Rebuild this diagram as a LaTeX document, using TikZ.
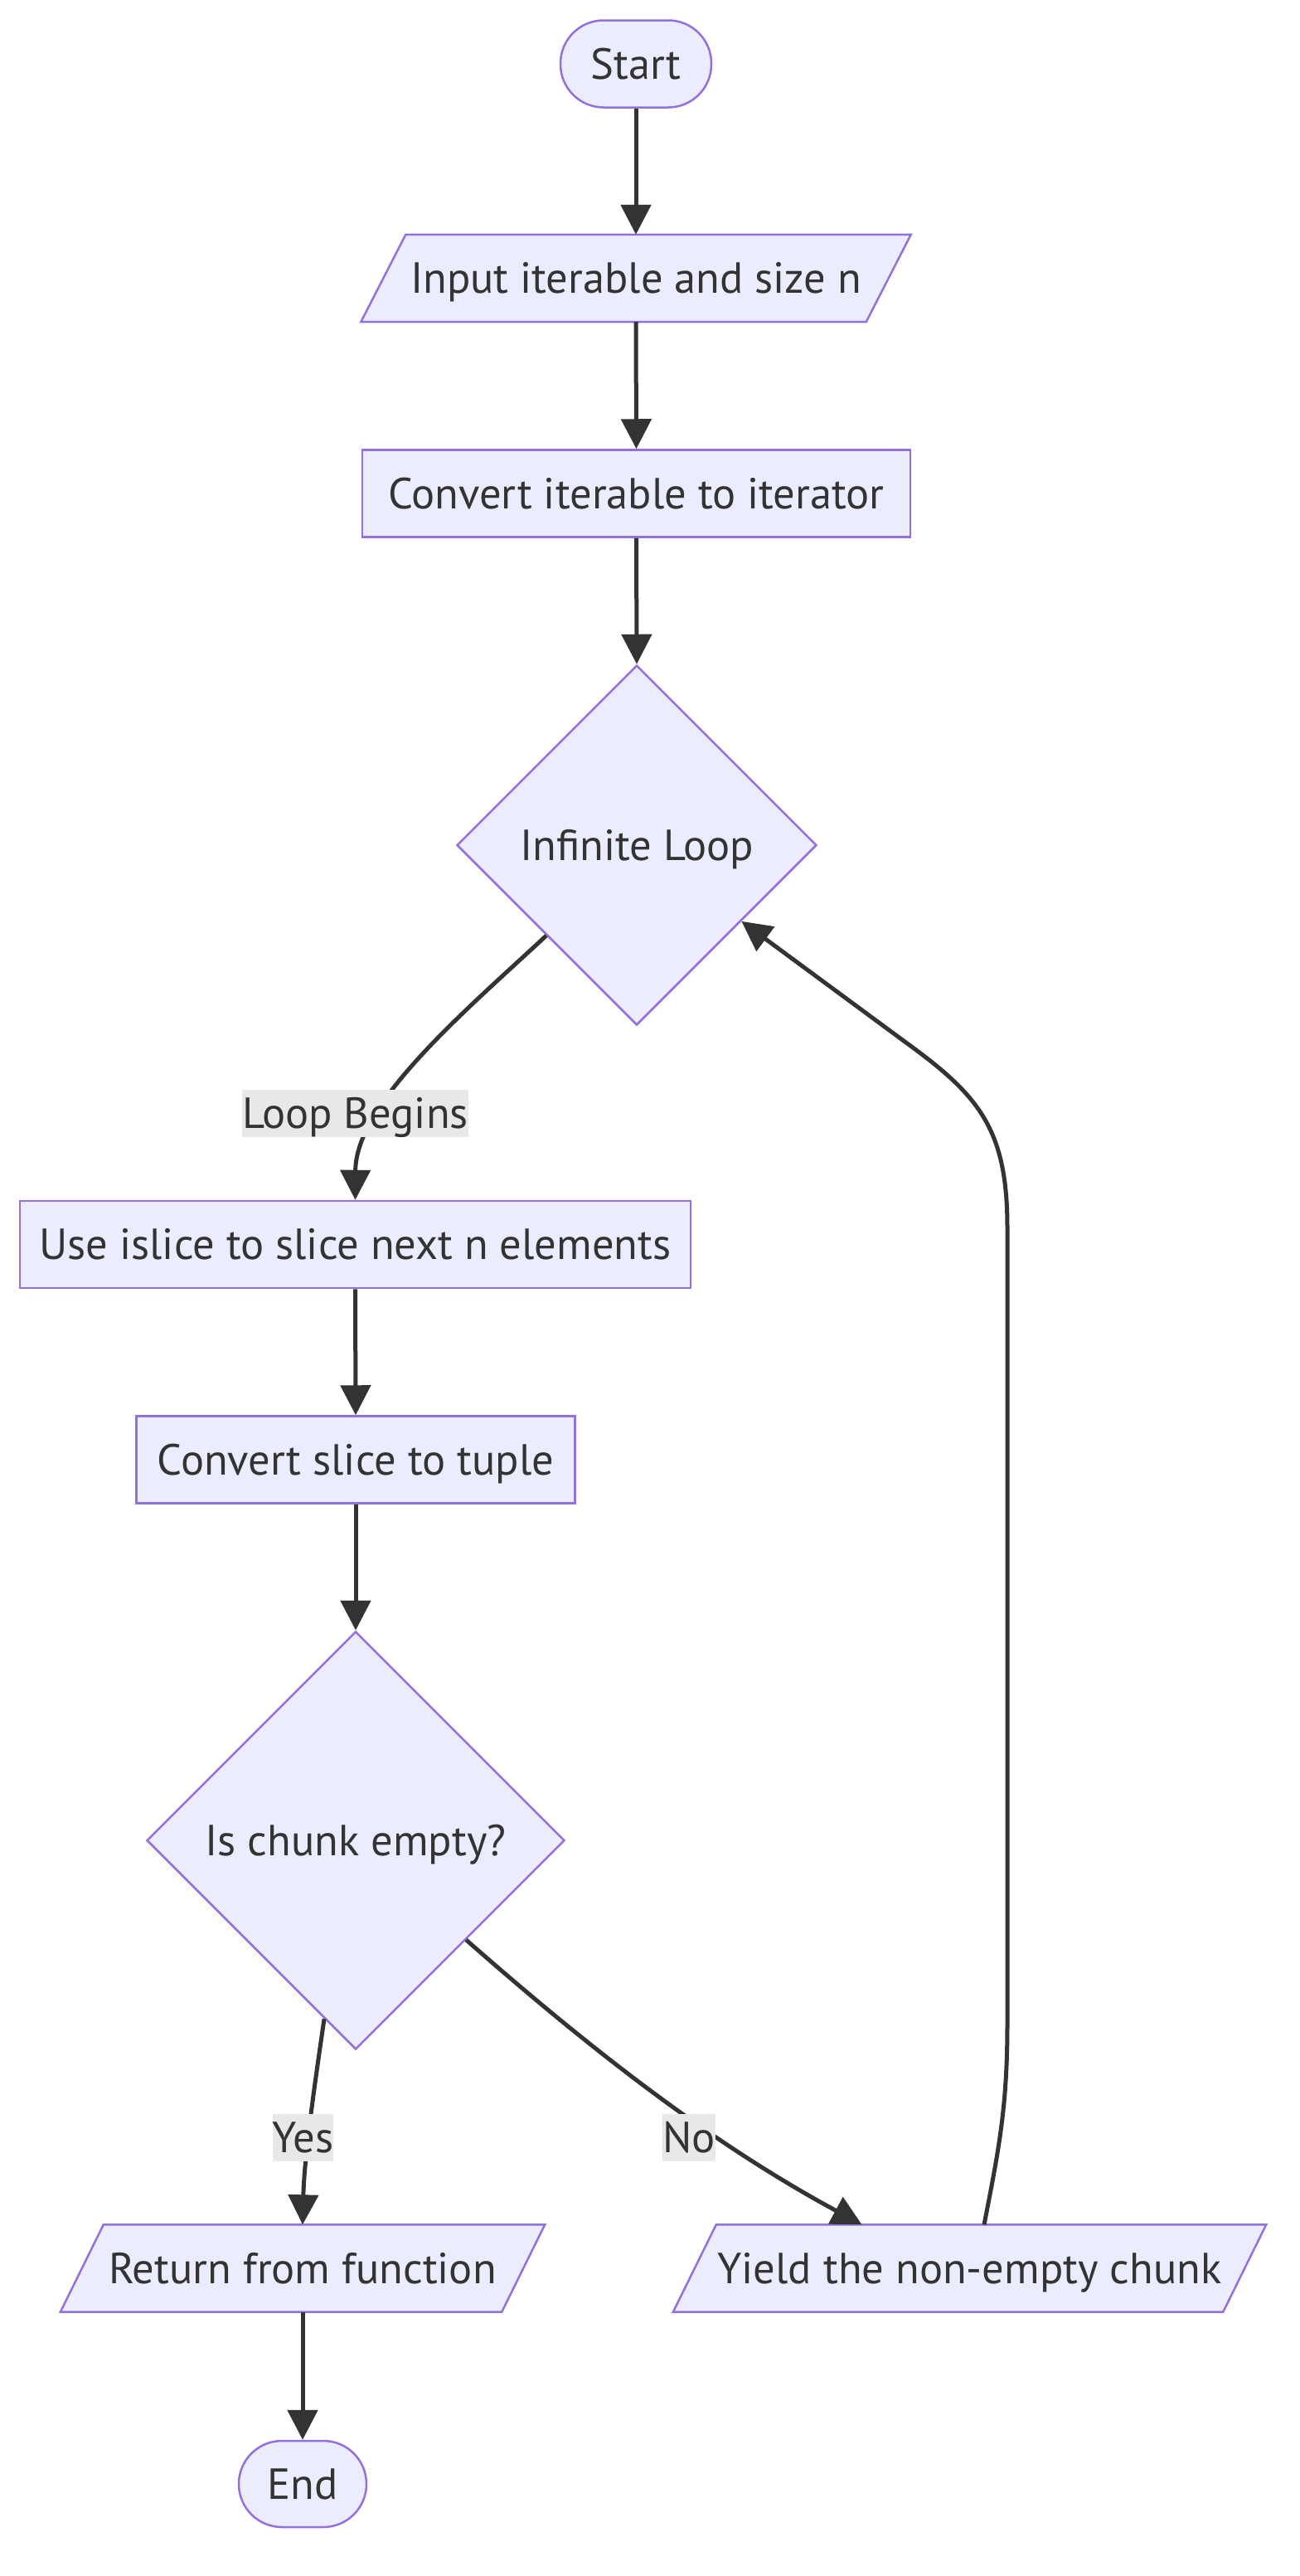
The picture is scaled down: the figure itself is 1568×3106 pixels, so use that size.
\documentclass[tikz,border=0pt]{standalone}
\usepackage{fontspec}
\setmainfont{PT Sans}
\usetikzlibrary{shapes.geometric,arrows.meta,backgrounds}
\definecolor{nfill}{HTML}{ECECFF}
\definecolor{nstroke}{HTML}{9370DB}
\definecolor{eline}{HTML}{333333}
\definecolor{lblbg}{HTML}{E8E8E8}
\begin{document}
\begin{tikzpicture}[x=1pt,y=-1pt,
  every node/.style={text=eline, font=\fontsize{52.5}{63}\selectfont, text height=36.5pt, text depth=0pt},
  box/.style={draw=nstroke, fill=nfill, line width=2.5pt, rectangle, inner sep=0pt, minimum height=105pt},
  term/.style={box, rounded corners=52pt},
  para/.style={rectangle, inner sep=0pt, minimum height=105pt},
  rhomb/.style={diamond, aspect=1, draw=nstroke, fill=nfill, line width=2.5pt, inner sep=0pt},
  conn/.style={draw=eline, line width=5pt, -{Triangle[length=36pt,width=36pt]}},
  lbl/.style={fill=lblbg, inner sep=0pt, minimum height=57pt}
]
\useasboundingbox (0,0) rectangle (1568,3106);
\node[term, minimum width=182pt] (start) at (767,77) {Start};
\node[para, minimum width=609pt] (input) at (767,335.5) {Input iterable and size n};
\node[box, minimum width=661pt] (conv) at (767.5,595) {Convert iterable to iterator};
\node[rhomb, minimum width=434pt, minimum height=434pt] (loop) at (768,1019) {Infinite Loop};
\node[box, minimum width=809pt] (islice) at (428.5,1500.5) {Use islice to slice next n elements};
\node[box, minimum width=529pt] (tuple) at (429,1760) {Convert slice to tuple};
\node[rhomb, minimum width=504pt, minimum height=504pt] (chunk) at (429,2219) {Is chunk empty?};
\node[para, minimum width=532pt] (ret) at (365,2735) {Return from function};
\node[para, minimum width=663pt] (yield) at (1169.5,2735) {Yield the non-empty chunk};
\node[term, minimum width=154pt, minimum height=104pt] (end) at (365,2995) {End};
\begin{scope}[on background layer]
\foreach \n/\s in {input/27, ret/26, yield/26} {
  \filldraw[draw=nstroke, fill=nfill, line width=2.5pt]
    ([xshift=\s pt]\n.north west) -- ([xshift=\s pt]\n.north east) --
    ([xshift=-\s pt]\n.south east) -- ([xshift=-\s pt]\n.south west) -- cycle;
}
\end{scope}
\draw[conn] (start.south) -- (input.north);
\draw[conn] (input.south) -- (conv.north);
\draw[conn] (conv.south) -- (loop.north);
\draw[conn] (loop.south west) .. controls (560,1220) and (429,1330) .. (islice.north);
\draw[conn] (islice.south) -- (tuple.north);
\draw[conn] (tuple.south) -- (chunk.north);
\draw[conn] (chunk.260) .. controls (380,2510) and (367,2600) .. (ret.north);
\draw[conn] (chunk.-42) .. controls (700,2460) and (850,2580) .. ([xshift=-130pt]yield.north);
\draw[conn] ([xshift=17.5pt]yield.north) .. controls (1205,2590) and (1215,2540) .. (1215,2440)
  -- (1215,1480) .. controls (1215,1360) and (1180,1320) .. (1090,1255) -- (loop.-36);
\draw[conn] (ret.south) -- (end.north);
\node[lbl, minimum width=261pt] (lb1) at (428.5,1342) {Loop Begins};
\node[lbl, minimum width=69pt] (lb2) at (365.5,2577.5) {Yes};
\node[lbl, minimum width=58pt] (lb3) at (831,2577.5) {No};
\end{tikzpicture}
\end{document}
